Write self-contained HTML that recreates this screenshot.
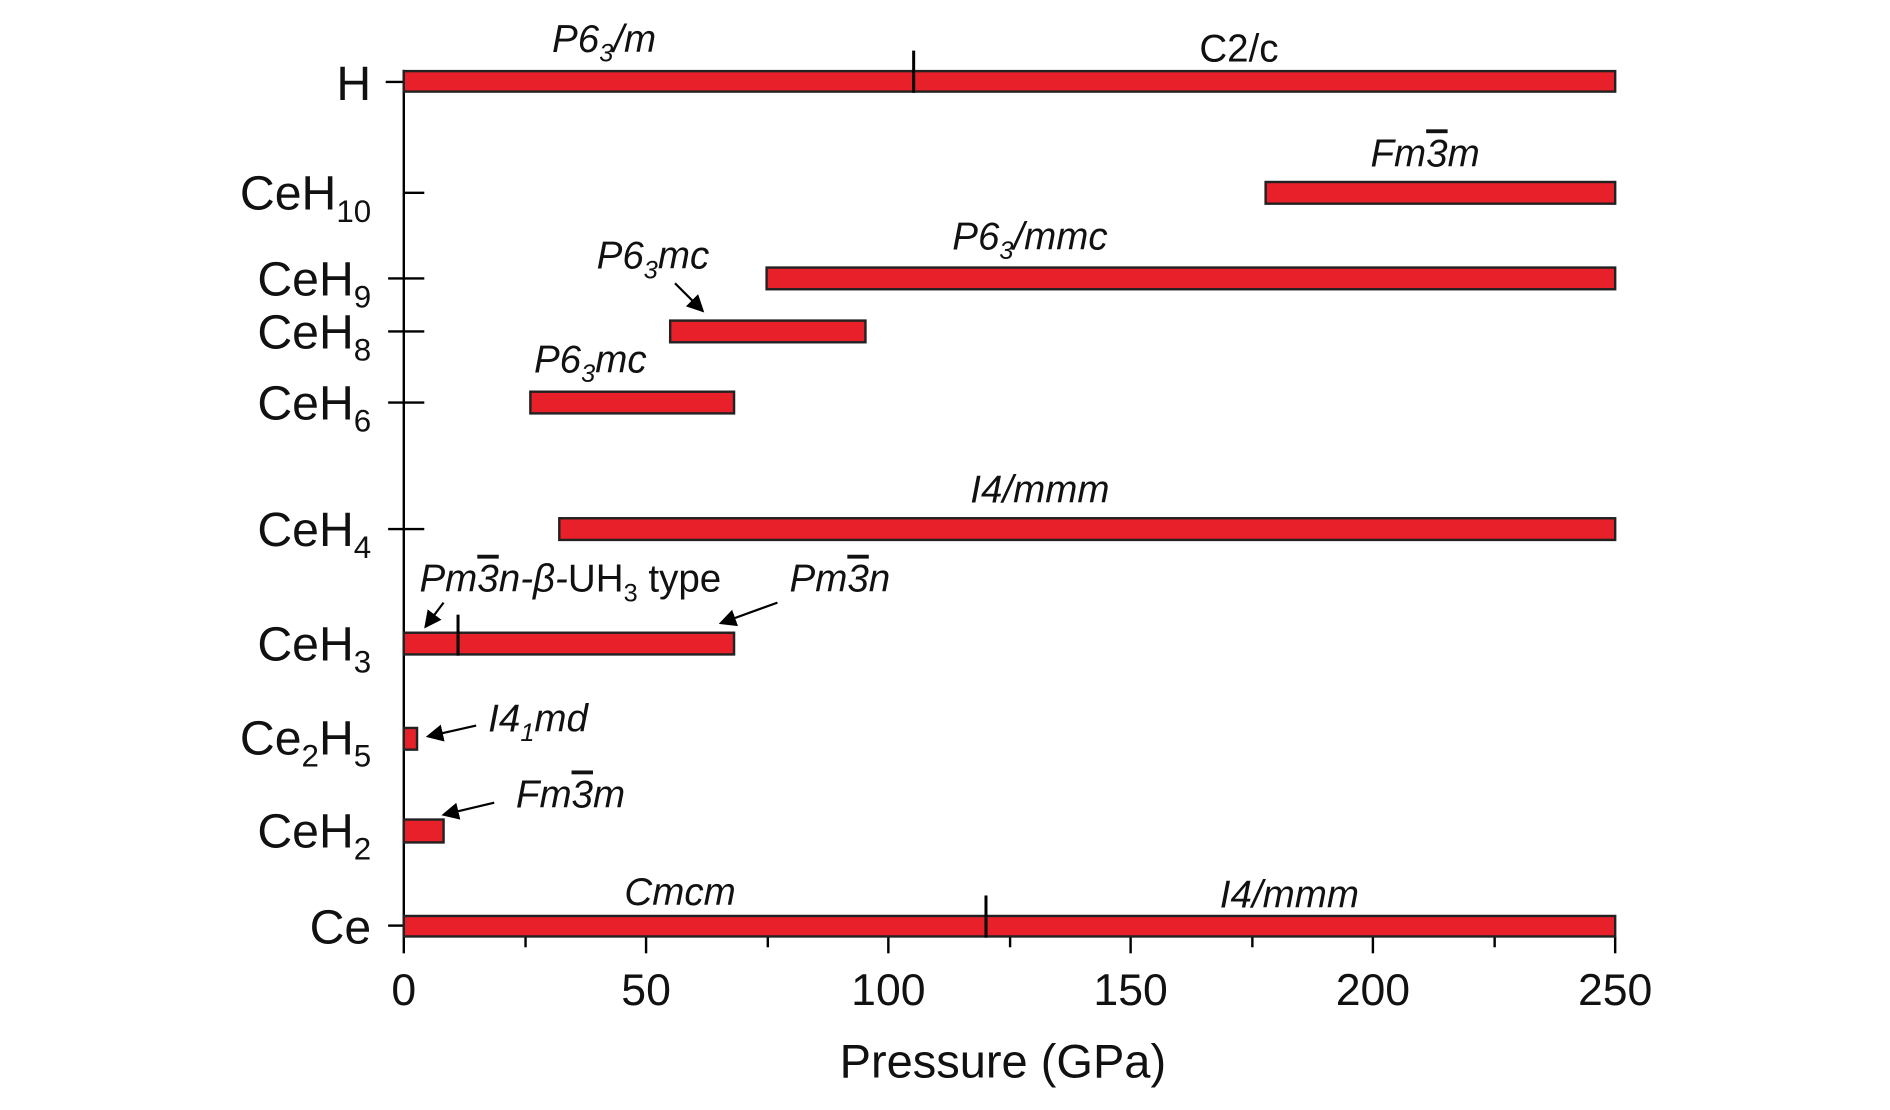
<!DOCTYPE html>
<html><head><style>html,body{margin:0;padding:0;background:#fff}svg{display:block}</style></head>
<body>
<svg width="1890" height="1110" viewBox="0 0 1568 921" preserveAspectRatio="none" xmlns="http://www.w3.org/2000/svg" font-family="Liberation Sans, sans-serif">
<defs><marker id="ah" markerWidth="8" markerHeight="8" refX="7" refY="4" orient="auto"><path d="M0,0 L8,4 L0,8 z" fill="#000"/></marker></defs>
<g stroke="#000" stroke-width="2">
<line x1="335" y1="58" x2="335" y2="778"/>
<line x1="320" y1="68" x2="335" y2="68"/>
<line x1="336" y1="160" x2="352" y2="160"/>
<line x1="322" y1="231" x2="352" y2="231"/>
<line x1="322" y1="275" x2="352" y2="275"/>
<line x1="322" y1="334" x2="352" y2="334"/>
<line x1="322" y1="439" x2="352" y2="439"/>
<line x1="322" y1="768" x2="335" y2="768"/>
<g>
<line x1="335" y1="777" x2="335" y2="791"/><line x1="436" y1="777" x2="436" y2="786"/>
<line x1="536" y1="777" x2="536" y2="791"/><line x1="637" y1="777" x2="637" y2="786"/>
<line x1="737" y1="777" x2="737" y2="791"/><line x1="838" y1="777" x2="838" y2="786"/>
<line x1="938" y1="777" x2="938" y2="791"/><line x1="1039" y1="777" x2="1039" y2="786"/>
<line x1="1139" y1="777" x2="1139" y2="791"/><line x1="1240" y1="777" x2="1240" y2="786"/>
<line x1="1340" y1="777" x2="1340" y2="791"/>
</g>
</g>
<g fill="#e8202a" stroke="#222" stroke-width="2">
<rect x="335" y="59" width="1005" height="17"/>
<rect x="1050" y="151" width="290" height="18"/>
<rect x="636" y="222" width="704" height="18"/>
<rect x="556" y="266" width="162" height="18"/>
<rect x="440" y="325" width="169" height="18"/>
<rect x="464" y="430" width="876" height="18"/>
<rect x="335" y="525" width="274" height="18"/>
<rect x="335" y="604" width="11" height="18"/>
<rect x="335" y="680" width="33" height="19"/>
<rect x="335" y="760" width="1005" height="17"/>
</g>
<g stroke="#000" stroke-width="2.5">
<line x1="758" y1="42" x2="758" y2="77"/>
<line x1="380" y1="510" x2="380" y2="544"/>
<line x1="818" y1="743" x2="818" y2="778"/>
</g>
<g font-size="40" text-anchor="end" fill="#111">
<text x="308" y="83">H</text>
<text x="308" y="174">CeH<tspan font-size="26" dy="10">10</tspan></text>
<text x="308" y="245">CeH<tspan font-size="26" dy="10">9</tspan></text>
<text x="308" y="289">CeH<tspan font-size="26" dy="10">8</tspan></text>
<text x="308" y="348">CeH<tspan font-size="26" dy="10">6</tspan></text>
<text x="308" y="453">CeH<tspan font-size="26" dy="10">4</tspan></text>
<text x="308" y="548">CeH<tspan font-size="26" dy="10">3</tspan></text>
<text x="308" y="626">Ce<tspan font-size="26" dy="10">2</tspan><tspan dy="-10">H</tspan><tspan font-size="26" dy="10">5</tspan></text>
<text x="308" y="703">CeH<tspan font-size="26" dy="10">2</tspan></text>
<text x="308" y="783">Ce</text>
</g>
<g font-size="37" text-anchor="middle" fill="#111">
<text x="335" y="834">0</text><text x="536" y="834">50</text><text x="737" y="834">100</text>
<text x="938" y="834">150</text><text x="1139" y="834">200</text><text x="1340" y="834">250</text>
<text x="832" y="894" font-size="39">Pressure (GPa)</text>
</g>
<g font-size="32" font-style="italic" fill="#111">
<text x="458" y="43">P6<tspan font-size="21" dy="8">3</tspan><tspan dy="-8">/m</tspan></text>
<text x="995" y="51" font-style="normal">C2/c</text>
<text x="1137" y="138">Fm<tspan text-decoration="overline">3</tspan>m</text>
<text x="790" y="207">P6<tspan font-size="21" dy="8">3</tspan><tspan dy="-8">/mmc</tspan></text>
<text x="495" y="223">P6<tspan font-size="21" dy="8">3</tspan><tspan dy="-8">mc</tspan></text>
<text x="443" y="309">P6<tspan font-size="21" dy="8">3</tspan><tspan dy="-8">mc</tspan></text>
<text x="805" y="417">I4/mmm</text>
<text x="348" y="491">Pm<tspan text-decoration="overline">3</tspan>n-β-<tspan font-style="normal">UH</tspan><tspan font-size="21" dy="8" font-style="normal">3</tspan><tspan dy="-8" font-style="normal"> type</tspan></text>
<text x="655" y="491">Pm<tspan text-decoration="overline">3</tspan>n</text>
<text x="405" y="607">I4<tspan font-size="21" dy="8">1</tspan><tspan dy="-8">md</tspan></text>
<text x="428" y="670">Fm<tspan text-decoration="overline">3</tspan>m</text>
<text x="518" y="751">Cmcm</text>
<text x="1012" y="753">I4/mmm</text>
</g>
<g stroke="#000" stroke-width="1.8" marker-end="url(#ah)">
<line x1="560" y1="235" x2="583" y2="258"/>
<line x1="368" y1="500" x2="353" y2="520"/>
<line x1="645" y1="500" x2="598" y2="517"/>
<line x1="395" y1="602" x2="355" y2="611"/>
<line x1="410" y1="666" x2="368" y2="676"/>
</g>
</svg>
</body></html>
